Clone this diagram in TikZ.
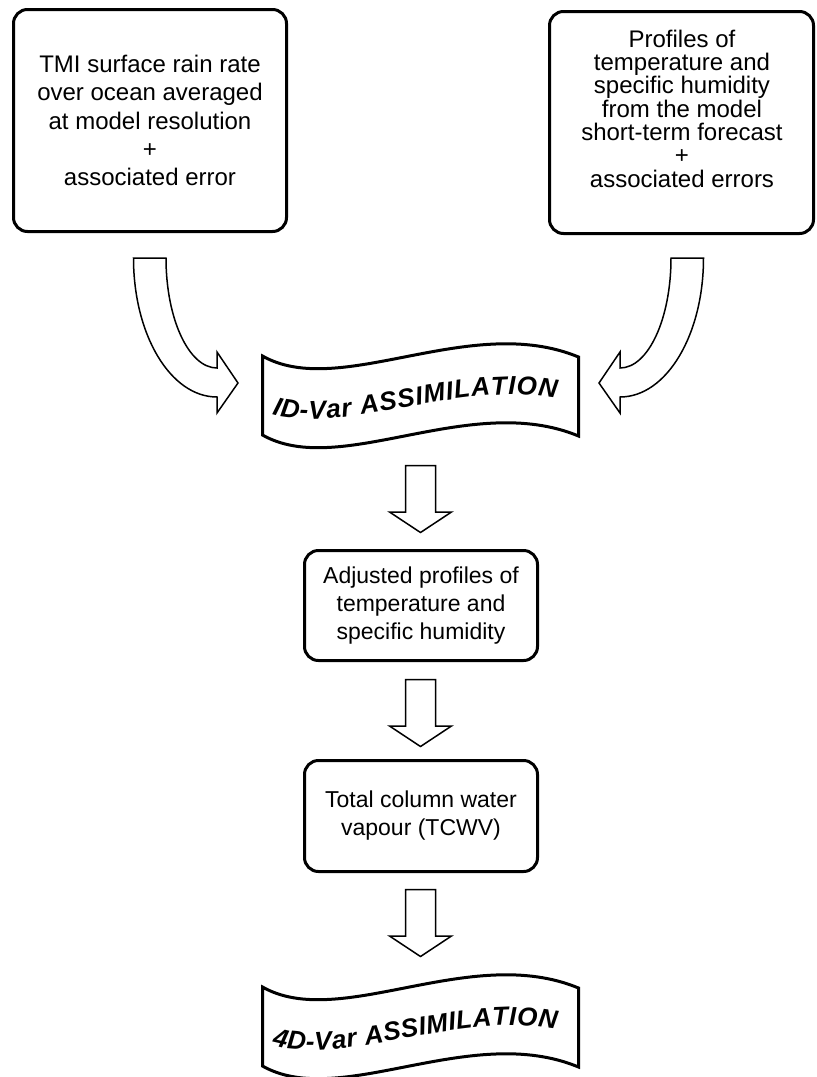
\documentclass[tikz,border=0pt]{standalone}
\usepackage{fontspec}
\setmainfont{Liberation Sans}
\usetikzlibrary{decorations.text}
\begin{document}
\begin{tikzpicture}[x=1pt,y=-1pt,
  box/.style={draw, line width=3pt, rounded corners=14pt, inner sep=0pt},
  boxtext/.style={align=center, font=\fontsize{23}{28}\selectfont, inner sep=0pt},
  blockarrow/.style={draw, line width=1.5pt, line join=miter, fill=white},
  banner/.style={draw, line width=3pt, line join=miter},
  bannertext/.style={decorate, decoration={text along path, text align={fit to path},
      text={|\fontsize{26}{26}\selectfont\bfseries\itshape|#1}}},
  downarr/.pic={\draw[blockarrow] (-15,0) -- (-15,46.5) -- (-31,46.5) -- (0,67) -- (31,46.5) -- (15,46.5) -- (15,0) -- cycle;}
]
\useasboundingbox (0,0) rectangle (817,1077);

% top boxes
\node[box, boxtext, font=\fontsize{24}{28.3}\selectfont, minimum width=273pt, minimum height=222pt] (boxA) at (150,120.5)
  {TMI surface rain rate\\over ocean averaged\\at model resolution\\+\\associated error};
\node[box, minimum width=264pt, minimum height=222pt] (boxB) at (681.5,122.5) {};
\node[boxtext, font=\fontsize{24}{23.3}\selectfont] (txtB) at (682,108.6)
  {Profiles of\\temperature and\\specific humidity\\from the model\\short-term forecast\\+\\associated errors};

% curved arrows
\draw[blockarrow] (133.5,258) .. controls (133.5,335) and (170.6,397) .. (217,397)
  -- (217,413) -- (238,383) -- (217,352) -- (217,368)
  .. controls (188.8,368) and (166,318.8) .. (166,258) -- cycle;
\draw[blockarrow] (703.5,258) .. controls (703.5,335) and (666.4,397) .. (620,397)
  -- (620,413) -- (599,383) -- (620,352) -- (620,368)
  .. controls (648.2,368) and (671,318.8) .. (671,258) -- cycle;

% banner 1
\draw[banner] (262.5,356) .. controls (340,400) and (470,312) .. (578.5,357)
  -- (578.5,436) .. controls (470,391) and (340,479) .. (262.5,435) -- cycle;
\coordinate (ban1) at (420.5,396);
\path[bannertext={ID-Var ASSIMILATION}] (272,414) .. controls (342,436) and (458,380) .. (556,398);

% straight arrows and boxes
\pic at (420.5,465.5) {downarr};
\node[box, boxtext, minimum width=233pt, minimum height=110pt] (boxC) at (421,605.5)
  {Adjusted profiles of\\temperature and\\specific humidity};
\pic at (420.5,679.5) {downarr};
\node[box, boxtext, minimum width=233pt, minimum height=111pt] (boxD) at (421,816)
  {Total column water\\vapour (TCWV)};
\pic at (420.5,889.5) {downarr};

% banner 2
\draw[banner] (262.5,987) .. controls (340,1031) and (470,943) .. (578.5,988)
  -- (578.5,1067) .. controls (470,1022) and (340,1110) .. (262.5,1066) -- cycle;
\coordinate (ban2) at (420.5,1027);
\path[bannertext={4D-Var ASSIMILATION}] (272,1045) .. controls (342,1067) and (458,1011) .. (556,1029);
\end{tikzpicture}
\end{document}
